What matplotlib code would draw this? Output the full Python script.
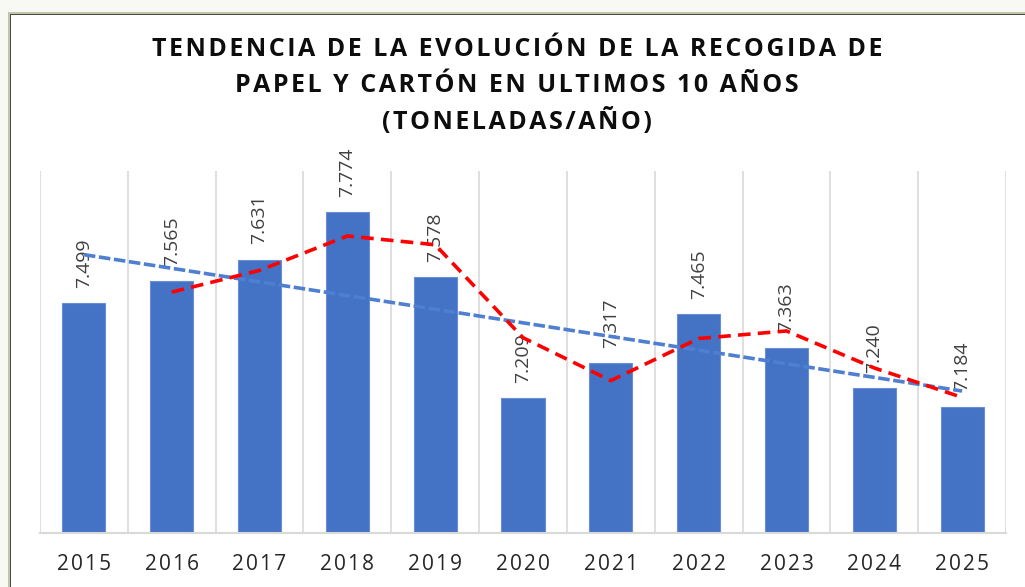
import matplotlib.pyplot as plt
from matplotlib.patches import Rectangle
import numpy as np
import pandas as pd

plt.rcParams['font.family'] = ['Open Sans', 'DejaVu Sans']

years = ['2015', '2016', '2017', '2018', '2019', '2020',
         '2021', '2022', '2023', '2024', '2025']
toneladas = [7.499, 7.565, 7.631, 7.774, 7.578, 7.209,
             7.317, 7.465, 7.363, 7.240, 7.184]
etiquetas = ['7.499', '7.565', '7.631', '7.774', '7.578', '7.209',
             '7.317', '7.465', '7.363', '7.240', '7.184']

title_lines = ['TENDENCIA DE LA EVOLUCIÓN DE LA RECOGIDA DE',
               'PAPEL Y CARTÓN EN ULTIMOS 10 AÑOS',
               '(TONELADAS/AÑO)']

HS = '\u200a'


def spaced(s):
    return HS.join(s)


W, H = 1025, 587
fig = plt.figure(figsize=(W / 100, H / 100), dpi=100)

# window frame around the chart
fig.patches.append(Rectangle((0, 0), 1, 1, transform=fig.transFigure,
                             facecolor='#f9f9f4', edgecolor='none', zorder=-10))
fig.patches.append(Rectangle((11 / W, 0), 1, 1 - 15 / H, transform=fig.transFigure,
                             facecolor='white', edgecolor='none', zorder=-9))
fig.patches.append(Rectangle((8 / W, 0), 2 / W, 1 - 12 / H, transform=fig.transFigure,
                             facecolor='#c3c6a6', edgecolor='none', zorder=-8))
fig.patches.append(Rectangle((8 / W, 1 - 14 / H), 1, 2 / H, transform=fig.transFigure,
                             facecolor='#c3c6a6', edgecolor='none', zorder=-8))
fig.patches.append(Rectangle((10 / W, 0), 1.3 / W, 1 - 14 / H, transform=fig.transFigure,
                             facecolor='#4a4a44', edgecolor='none', zorder=-7))
fig.patches.append(Rectangle((10 / W, 1 - 15.3 / H), 1, 1.3 / H, transform=fig.transFigure,
                             facecolor='#4a4a44', edgecolor='none', zorder=-7))

ax = fig.add_axes([40 / W, (H - 533) / H, (1006 - 40) / W, (533 - 171) / H])
ax.set_facecolor('none')

x = np.arange(len(years))
vals = np.array(toneladas)

ax.bar(x, vals, width=0.49, color='#4472C4', edgecolor='#6a8fd6',
       linewidth=0.8, zorder=2)

# linear trend line
coef = np.polyfit(x, vals, 1)
ax.plot(x, np.polyval(coef, x), color='#4f7fd0', lw=2.6,
        linestyle=(0, (3.2, 1.0)), zorder=4)

# 2-period moving average
ma = pd.Series(vals).rolling(2).mean()
ax.plot(x, ma, color='#ff0000', lw=2.6, linestyle=(0, (3.5, 2.0)), zorder=5)

for xi, v, lab in zip(x, vals, etiquetas):
    ax.annotate(lab, (xi, v), xytext=(0, 11), textcoords='offset points',
                rotation=90, ha='center', va='bottom', fontsize=14,
                color='#404040', zorder=3)

ax.set_xlim(-0.5, len(years) - 0.5)
ax.set_ylim(6.8, 7.9)
ax.set_yticks([])
ax.set_xticks(x)
ax.set_xticklabels([spaced(y) for y in years], fontsize=15, color='#262626')
ax.tick_params(axis='x', length=0, pad=15)

for b in np.arange(-0.5, len(years), 1.0):
    ax.axvline(b, color='#d9d9d9', lw=1.2, zorder=1)

for s in ['top', 'left', 'right']:
    ax.spines[s].set_visible(False)
ax.spines['bottom'].set_color('#d9d9d9')
ax.spines['bottom'].set_linewidth(1.5)

for i, line in enumerate(title_lines):
    fig.text(517 / W, 1 - (50 + 35.5 * i) / H, spaced(line), ha='center',
             va='center', fontsize=18, fontweight='bold', color='#0d0d0d')

fig.savefig('out.png', dpi=100)
